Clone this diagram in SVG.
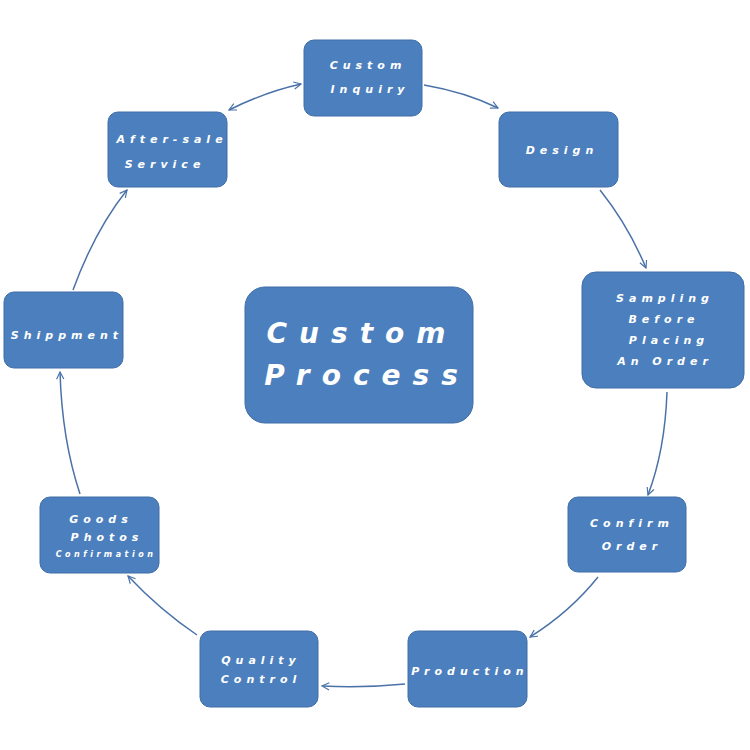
<svg xmlns="http://www.w3.org/2000/svg" width="750" height="750" viewBox="0 0 750 750">
<defs>
<marker id="arr" viewBox="0 0 10 10" refX="9" refY="5" markerWidth="9" markerHeight="9" markerUnits="userSpaceOnUse" orient="auto-start-reverse">
<path d="M1,1 L9,5 L1,9" fill="none" stroke="#4a72a8" stroke-width="1.3"/>
</marker>
</defs>
<style>
.box{fill:#4c7fbd;stroke:#3f6ea8;stroke-width:1}
.t{fill:#fff;font-family:"DejaVu Sans",sans-serif;font-style:italic;font-weight:bold;font-size:11px;letter-spacing:5px;text-anchor:middle}
.s{font-size:8px;letter-spacing:3.5px}
.big{font-size:28px;letter-spacing:12px}
.c{fill:none;stroke:#4a72a8;stroke-width:1.5;marker-end:url(#arr)}
</style>
<rect width="750" height="750" fill="#fff"/>
<g id="connectors">
<path class="c" d="M229,110 Q265,92 301,84" marker-start="url(#arr)"/>
<path class="c" d="M424,85 Q465,92 498,108"/>
<path class="c" d="M600,190 Q628,225 646,268"/>
<path class="c" d="M667,392 Q665,450 648,495"/>
<path class="c" d="M598,577 Q570,612 530,637"/>
<path class="c" d="M405,684 Q365,688 322,686"/>
<path class="c" d="M197,635 Q160,610 128,576"/>
<path class="c" d="M80,494 Q62,440 60,372"/>
<path class="c" d="M73,290 Q95,230 127,190"/>
</g>
<g id="center">
<rect class="box" x="245" y="287" width="228" height="136" rx="20"/>
<text class="t big" x="362" y="343">Custom</text>
<text class="t big" x="367" y="385">Process</text>
</g>
<g id="custom-inquiry">
<rect class="box" x="304" y="40" width="118" height="76" rx="10"/>
<text class="t" x="368" y="69">Custom</text>
<text class="t" x="370" y="93">Inquiry</text>
</g>
<g id="design">
<rect class="box" x="499" y="112" width="119" height="75" rx="10"/>
<text class="t" x="562" y="154">Design</text>
</g>
<g id="sampling">
<rect class="box" x="582" y="272" width="162" height="116" rx="14"/>
<text class="t" x="665" y="302">Sampling</text>
<text class="t" x="664" y="323">Before</text>
<text class="t" x="669" y="344">Placing</text>
<text class="t" x="665" y="365">An Order</text>
</g>
<g id="confirm-order">
<rect class="box" x="568" y="497" width="118" height="75" rx="10"/>
<text class="t" x="632" y="527">Confirm</text>
<text class="t" x="632" y="550">Order</text>
</g>
<g id="production">
<rect class="box" x="408" y="631" width="119" height="76" rx="10"/>
<text class="t" x="470" y="675">Production</text>
</g>
<g id="quality-control">
<rect class="box" x="200" y="631" width="118" height="76" rx="10"/>
<text class="t" x="261" y="664">Quality</text>
<text class="t" x="261" y="683">Control</text>
</g>
<g id="goods-photos">
<rect class="box" x="40" y="497" width="119" height="76" rx="10"/>
<text class="t" x="101" y="523">Goods</text>
<text class="t" x="107" y="541">Photos</text>
<text class="t s" x="106" y="557">Confirmation</text>
</g>
<g id="shippment">
<rect class="box" x="4" y="292" width="119" height="76" rx="10"/>
<text class="t" x="67" y="339">Shippment</text>
</g>
<g id="after-sale">
<rect class="box" x="108" y="112" width="119" height="75" rx="10"/>
<text class="t" x="172" y="143">After-sale</text>
<text class="t" x="165" y="168">Service</text>
</g>
</svg>
